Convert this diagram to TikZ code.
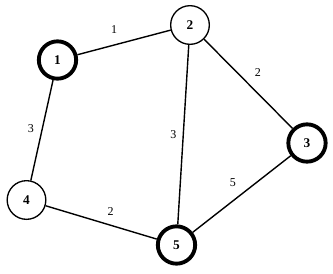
\documentclass[tikz,border=0pt]{standalone}
\usepackage{fontspec}
\setmainfont{Liberation Serif}
\begin{document}
\begin{tikzpicture}[x=0.75pt, y=-0.75pt, every node/.style={font=\fontsize{9}{10}\selectfont},
  vtx/.style={draw, circle, line width=1pt, minimum size=29pt, inner sep=0pt, font=\fontsize{10}{11}\selectfont\bfseries},
  heavy/.style={vtx, line width=2.9pt, minimum size=28pt},
  link/.style={line width=1.05pt},
  wt/.style={inner sep=0pt}]
\useasboundingbox (0,0) rectangle (333,273);
% vertices
\node[heavy] (v1) at (57.5,60) {1};
\node[vtx]   (v2) at (190,25) {2};
\node[heavy] (v3) at (307,143) {3};
\node[vtx]   (v4) at (26.5,200) {4};
\node[heavy] (v5) at (176.5,245) {5};
% weighted edges
\draw[link] (v1) -- (v2) node[wt, midway, shift={(-10,-12.5)}] {1};
\draw[link] (v2) -- (v3) node[wt, midway, shift={(9.5,-11)}] {2};
\draw[link] (v1) -- (v4) node[wt, midway, shift={(-11,-2)}] {3};
\draw[link] (v2) -- (v5) node[wt, midway, shift={(-10,0)}] {3};
\draw[link] (v3) -- (v5) node[wt, midway, shift={(-9,-11)}] {5};
\draw[link] (v4) -- (v5) node[wt, midway, shift={(9.5,-10.5)}] {2};
\end{tikzpicture}
\end{document}
